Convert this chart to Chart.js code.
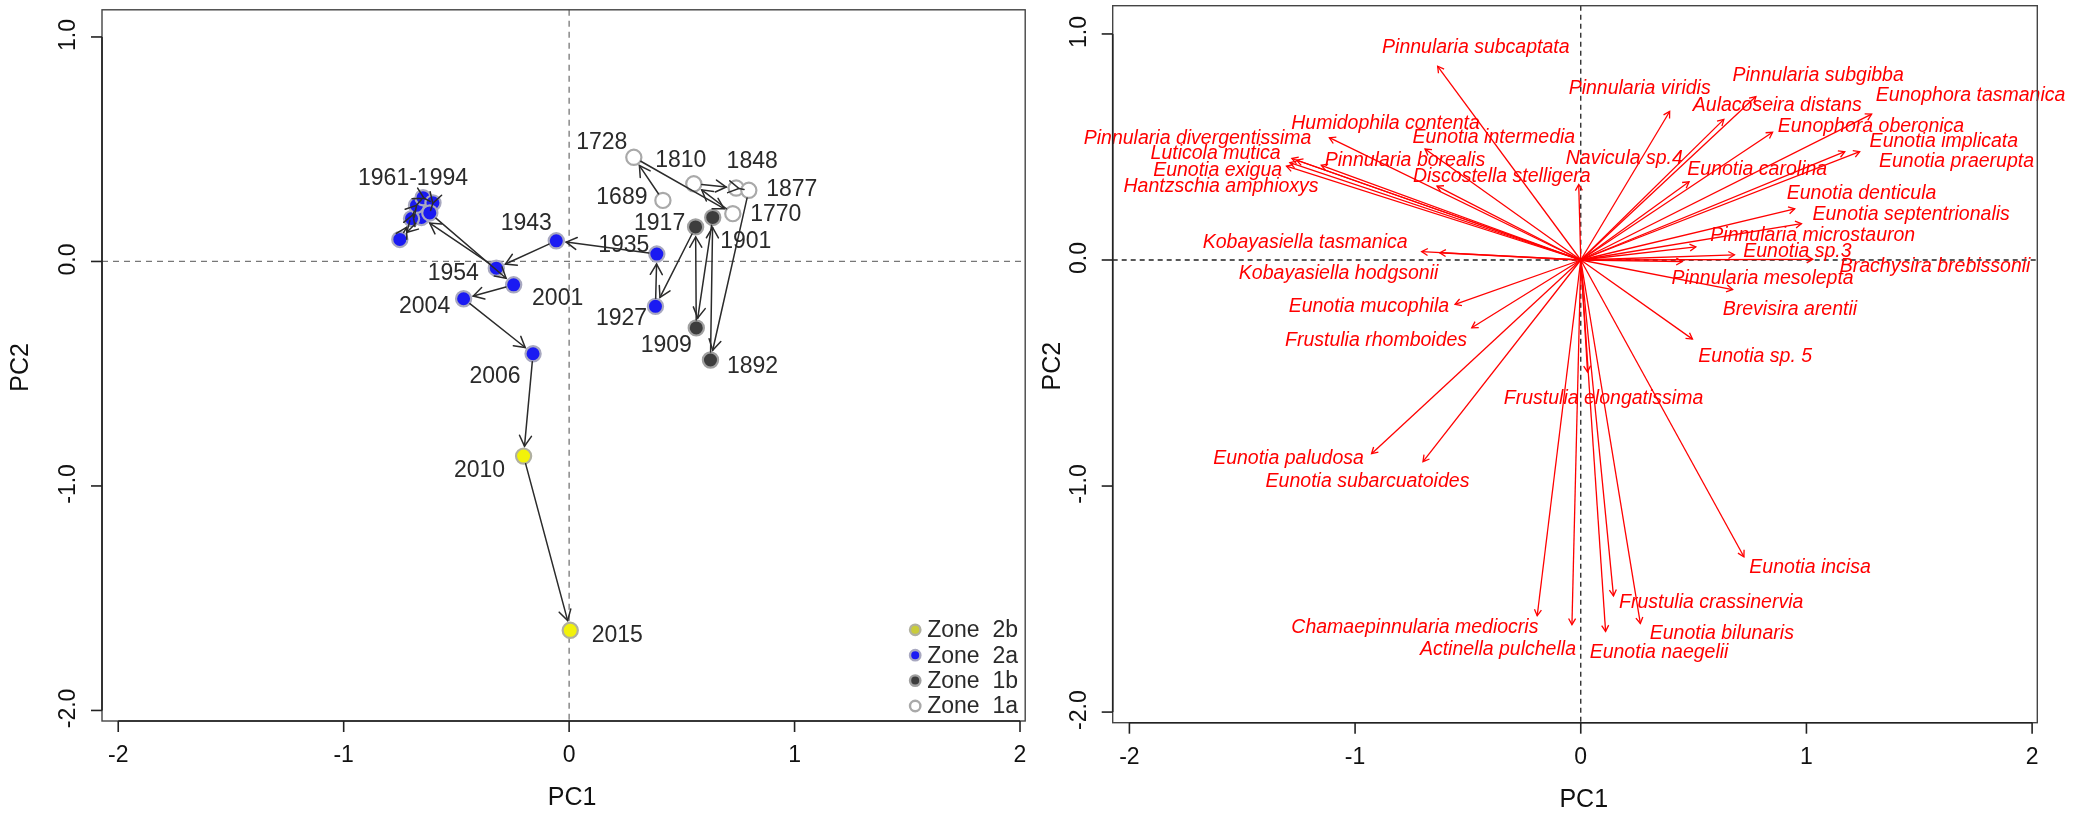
<!DOCTYPE html>
<html>
<head>
<meta charset="utf-8">
<script src="https://cdn.jsdelivr.net/npm/chart.js@4.4.1/dist/chart.umd.min.js"></script>
<style>
  html, body { margin: 0; padding: 0; background: #fff; width: 2089px; height: 816px; overflow: hidden; }
  canvas { position: absolute; top: 0; }
  #scores { left: 0; }
  #loadings { left: 1035px; }
</style>
</head>
<body>
<canvas id="scores" width="1035" height="816"></canvas>
<canvas id="loadings" width="1054" height="816"></canvas>
<script>
// ---------- sample scores (PCA of the core samples, in chronological order) ----------
const sampleLabels = ['1689', '1728', '1770', '1810', '1848', '1877', '1892', '1901', '1909', '1917',
  '1927', '1935', '1943', '1954', '', '', '', '', '1961-1994', '', '', '2001', '2004', '2006', '2010', '2015'];
const samplePC1 = [0.416, 0.287, 0.726, 0.553, 0.741, 0.797, 0.627, 0.637, 0.564, 0.561,
  0.383, 0.389, -0.057, -0.323, -0.655, -0.751, -0.699, -0.677, -0.648, -0.604, -0.618, -0.246, -0.468, -0.160, -0.202, 0.005];
const samplePC2 = [0.272, 0.464, 0.213, 0.346, 0.327, 0.317, -0.439, 0.196, -0.296, 0.154,
  -0.200, 0.033, 0.092, -0.030, 0.196, 0.098, 0.191, 0.250, 0.284, 0.261, 0.216, -0.104, -0.166, -0.411, -0.867, -1.643];
const sampleZone = ['1a', '1a', '1a', '1a', '1a', '1a', '1b', '1b', '1b', '1b',
  '2a', '2a', '2a', '2a', '2a', '2a', '2a', '2a', '2a', '2a', '2a', '2a', '2a', '2a', '2b', '2b'];
const legendZones = ['2b', '2a', '1b', '1a'];

// ---------- species loadings ----------
const speciesNames = ['Pinnularia subcaptata', 'Pinnularia viridis', 'Pinnularia subgibba', 'Aulacoseira distans',
  'Eunophora tasmanica', 'Eunophora oberonica', 'Eunotia implicata', 'Eunotia praerupta', 'Navicula sp.4',
  'Eunotia carolina', 'Eunotia denticula', 'Eunotia septentrionalis', 'Pinnularia microstauron', 'Eunotia sp.3',
  'Brachysira brebissonii', 'Pinnularia mesolepta', 'Brevisira arentii', 'Eunotia sp. 5', 'Frustulia elongatissima',
  'Eunotia incisa', 'Frustulia crassinervia', 'Eunotia bilunaris', 'Eunotia naegelii', 'Actinella pulchella',
  'Chamaepinnularia mediocris', 'Eunotia paludosa', 'Eunotia subarcuatoides', 'Frustulia rhomboides',
  'Eunotia mucophila', 'Kobayasiella hodgsonii', 'Kobayasiella tasmanica', 'Hantzschia amphioxys', 'Eunotia exigua',
  'Luticola mutica', 'Pinnularia divergentissima', 'Humidophila contenta', 'Pinnularia borealis',
  'Eunotia intermedia', 'Discostella stelligera'];
const speciesPC1 = [-0.634, 0.394, 0.776, 0.634, 1.289, 0.850, 1.170, 1.236, -0.009, 0.480, 0.948, 0.978, 0.510, 0.681,
  1.028, 0.673, 0.450, 0.495, 0.030, 0.723, 0.145, 0.264, 0.110, -0.039, -0.193, -0.927, -0.699, -0.483, -0.557,
  -0.625, -0.705, -1.289, -1.304, -1.280, -1.259, -1.114, -1.150, -0.690, -0.637];
const speciesPC2 = [0.857, 0.657, 0.723, 0.622, 0.645, 0.565, 0.479, 0.479, 0.334, 0.346, 0.226, 0.161, 0.058, 0.023,
  0.003, -0.131, -0.007, -0.350, -0.495, -1.313, -1.486, -1.608, -1.643, -1.613, -1.574, -0.857, -0.892, -0.300, -0.196,
  0.032, 0.037, 0.431, 0.415, 0.449, 0.442, 0.541, 0.419, 0.491, 0.327];

// ---------- axes ----------
const xTickValues = [-2, -1, 0, 1, 2];
const xTickLabels = ['-2', '-1', '0', '1', '2'];
const yTickValues = [1, 0, -1, -2];
const yTickLabels = ['1.0', '0.0', '-1.0', '-2.0'];

// ---------- layout / styling ----------
// where each species name sits, in axis units (centre of the text)
const speciesTextAt = [[-0.465, 0.940], [0.261, 0.760], [1.052, 0.818], [0.871, 0.684], [1.727, 0.726], [1.286, 0.592],
  [1.609, 0.523], [1.665, 0.435], [0.193, 0.449], [0.782, 0.399], [1.244, 0.295], [1.464, 0.200], [1.028, 0.108],
  [0.960, 0.039], [1.570, -0.028], [0.806, -0.081], [0.927, -0.221], [0.773, -0.426], [0.101, -0.613], [1.016, -1.359],
  [0.578, -1.516], [0.625, -1.654], [0.347, -1.735], [-0.367, -1.724], [-0.735, -1.624], [-1.295, -0.880],
  [-0.945, -0.979], [-0.907, -0.357], [-0.939, -0.207], [-1.073, -0.062], [-1.221, 0.076], [-1.594, 0.323],
  [-1.609, 0.396], [-1.618, 0.470], [-1.698, 0.535], [-0.865, 0.604], [-0.779, 0.438], [-0.385, 0.541], [-0.350, 0.369]];
// pixel nudges of the year labels from their points
const yearNudge = [[-41, -3], [-32, -15], [43, 1], [-13, -23], [16, -26], [43, -1], [42, 7], [33, 24], [-30, 18], [-36, -3],
  [-34, 12], [-33, -8], [-30, -17], [-43, 5], [0, 0], [0, 0], [0, 0], [0, 0], [-10, -19], [0, 0], [0, 0],
  [44, 14], [-39, 8], [-38, 23], [-44, 15], [47, 5]];

const zoneFill = { '1a': '#ffffff', '1b': '#3d3d3d', '2a': '#1a1af2', '2b': '#f2f20a' };
const zoneEdge = { '1a': '#a9a9a9', '1b': '#a0a0a0', '2a': '#a8a8c0', '2b': '#b0b0a0' };
const legendFill = { '1a': '#ffffff', '1b': '#3d3d3d', '2a': '#1a1af2', '2b': '#c9cc3a' };

const FONT = '"Liberation Sans", Arial, Helvetica, sans-serif';

function arrow(ctx, x0, y0, x1, y1, cutStart, cutEnd, headLen) {
  const dx = x1 - x0, dy = y1 - y0, d = Math.hypot(dx, dy);
  if (d < 1e-6) return;
  const ux = dx / d, uy = dy / d;
  const sx = x0 + ux * cutStart, sy = y0 + uy * cutStart;
  const ex = x1 - ux * cutEnd, ey = y1 - uy * cutEnd;
  ctx.beginPath(); ctx.moveTo(sx, sy); ctx.lineTo(ex, ey); ctx.stroke();
  const a = Math.atan2(uy, ux), t = Math.PI / 6;
  ctx.beginPath();
  ctx.moveTo(ex - headLen * Math.cos(a - t), ey - headLen * Math.sin(a - t));
  ctx.lineTo(ex, ey);
  ctx.lineTo(ex - headLen * Math.cos(a + t), ey - headLen * Math.sin(a + t));
  ctx.stroke();
}

function framePlugin(opts) {
  return {
    id: 'frame',
    beforeDatasetsDraw(chart) {
      const { ctx, chartArea: a, scales: { x, y } } = chart;
      ctx.save();
      // zero reference lines
      ctx.strokeStyle = opts.zeroColor; ctx.lineWidth = 1.3; ctx.setLineDash(opts.zeroDash);
      const x0 = x.getPixelForValue(0), y0 = y.getPixelForValue(0);
      ctx.beginPath(); ctx.moveTo(x0, a.top); ctx.lineTo(x0, a.bottom); ctx.stroke();
      ctx.beginPath(); ctx.moveTo(a.left, y0); ctx.lineTo(a.right, y0); ctx.stroke();
      ctx.setLineDash([]);
      ctx.restore();
    },
    afterDraw(chart) {
      const { ctx, chartArea: a, scales: { x, y } } = chart;
      ctx.save();
      ctx.strokeStyle = '#444'; ctx.lineWidth = 1.4;
      ctx.strokeRect(a.left, a.top, a.right - a.left, a.bottom - a.top);
      ctx.strokeStyle = '#222'; ctx.lineWidth = 1.6;
      // axis lines and ticks
      const xs = xTickValues.map(v => x.getPixelForValue(v));
      ctx.beginPath(); ctx.moveTo(xs[0], a.bottom); ctx.lineTo(xs[xs.length - 1], a.bottom); ctx.stroke();
      xs.forEach(px => { ctx.beginPath(); ctx.moveTo(px, a.bottom); ctx.lineTo(px, a.bottom + 11); ctx.stroke(); });
      const ys = yTickValues.map(v => y.getPixelForValue(v));
      ctx.beginPath(); ctx.moveTo(a.left, ys[0]); ctx.lineTo(a.left, ys[ys.length - 1]); ctx.stroke();
      ys.forEach(py => { ctx.beginPath(); ctx.moveTo(a.left, py); ctx.lineTo(a.left - 11, py); ctx.stroke(); });
      // tick labels
      ctx.fillStyle = '#111'; ctx.font = '23px ' + FONT;
      ctx.textAlign = 'center'; ctx.textBaseline = 'middle';
      xs.forEach((px, i) => ctx.fillText(xTickLabels[i], px, a.bottom + 35));
      ys.forEach((py, i) => {
        ctx.save(); ctx.translate(a.left - 33, py - 2); ctx.rotate(-Math.PI / 2);
        ctx.fillText(yTickLabels[i], 0, 0); ctx.restore();
      });
      // axis titles
      ctx.font = '25px ' + FONT;
      ctx.fillText('PC1', x.getPixelForValue(0) + 3, a.bottom + 77);
      ctx.save(); ctx.translate(opts.pc2X, (a.top + a.bottom) / 2 + 2); ctx.rotate(-Math.PI / 2);
      ctx.fillText('PC2', 0, 0); ctx.restore();
      ctx.restore();
    }
  };
}

function baseOptions(W, H, box, xr, yr) {
  return {
    responsive: false, animation: false, devicePixelRatio: 1,
    layout: { padding: { left: 0, top: box.top, right: W - box.right, bottom: 0 } },
    plugins: { legend: { display: false }, tooltip: { enabled: false } },
    scales: {
      x: { type: 'linear', min: xr[0], max: xr[1],
        ticks: { display: false }, grid: { display: false }, border: { display: false },
        afterFit: s => { s.height = H - box.bottom; } },
      y: { type: 'linear', min: yr[0], max: yr[1],
        ticks: { display: false }, grid: { display: false }, border: { display: false },
        afterFit: s => { s.width = box.left; } }
    }
  };
}

// ---------- left panel: sample trajectory ----------
const samplePoints = samplePC1.map((v, i) => ({ x: v, y: samplePC2[i] }));
const trajectoryPlugin = {
  id: 'trajectory',
  afterDatasetsDraw(chart) {
    const { ctx, scales: { x, y } } = chart;
    const px = samplePC1.map(v => x.getPixelForValue(v));
    const py = samplePC2.map(v => y.getPixelForValue(v));
    ctx.save();
    ctx.strokeStyle = '#2b2b2b'; ctx.lineWidth = 1.5; ctx.lineCap = 'round';
    for (let i = 0; i + 1 < px.length; i++) arrow(ctx, px[i], py[i], px[i + 1], py[i + 1], 8, 10, 12);
    ctx.fillStyle = '#2a2a2a'; ctx.font = '23px ' + FONT;
    ctx.textAlign = 'center'; ctx.textBaseline = 'middle';
    sampleLabels.forEach((t, i) => {
      if (t) ctx.fillText(t, px[i] + yearNudge[i][0], py[i] + yearNudge[i][1]);
    });
    // legend, bottom-right corner of the plot
    const a = chart.chartArea;
    legendZones.forEach((z, k) => {
      const cy = a.bottom - 15 - (legendZones.length - 1 - k) * 25.4;
      const cx = a.right - 110;
      ctx.beginPath(); ctx.arc(cx, cy, 5.2, 0, 2 * Math.PI);
      ctx.fillStyle = legendFill[z]; ctx.fill();
      ctx.lineWidth = 2.4; ctx.strokeStyle = zoneEdge[z]; ctx.stroke();
      ctx.fillStyle = '#2a2a2a'; ctx.textAlign = 'left';
      ctx.fillText('Zone  ' + z, cx + 12, cy + 1);
    });
    ctx.restore();
  }
};

new Chart(document.getElementById('scores'), {
  type: 'scatter',
  data: { datasets: [{
    data: samplePoints,
    pointRadius: 7.6, pointBorderWidth: 2.2,
    pointBackgroundColor: sampleZone.map(z => zoneFill[z]),
    pointBorderColor: sampleZone.map(z => zoneEdge[z]),
    showLine: false
  }] },
  options: baseOptions(1035, 816, { left: 102, top: 5, right: 1026, bottom: 721 }, [-2.072, 2.023], [-2.047, 1.121]),
  plugins: [framePlugin({ zeroColor: '#777', zeroDash: [6, 5], pc2X: 21 }), trajectoryPlugin]
});

// ---------- right panel: species loadings ----------
const loadingPlugin = {
  id: 'loadings',
  afterDatasetsDraw(chart) {
    const { ctx, scales: { x, y } } = chart;
    const ox = x.getPixelForValue(0), oy = y.getPixelForValue(0);
    ctx.save();
    ctx.strokeStyle = '#ff0000'; ctx.lineWidth = 1.3;
    speciesPC1.forEach((v, i) => arrow(ctx, ox, oy, x.getPixelForValue(v), y.getPixelForValue(speciesPC2[i]), 0, 0, 7));
    ctx.fillStyle = '#ff0000'; ctx.font = 'italic 19.5px ' + FONT;
    ctx.textAlign = 'center'; ctx.textBaseline = 'middle';
    speciesNames.forEach((n, i) => {
      ctx.fillText(n, x.getPixelForValue(speciesTextAt[i][0]), y.getPixelForValue(speciesTextAt[i][1]));
    });
    ctx.restore();
  }
};

new Chart(document.getElementById('loadings'), {
  type: 'scatter',
  data: { datasets: [{
    data: speciesPC1.map((v, i) => ({ x: v, y: speciesPC2[i] })),
    pointRadius: 0, showLine: false
  }] },
  options: baseOptions(1054, 816, { left: 77.7, top: 5.7, right: 1002.3, bottom: 722.7 }, [-2.074, 2.023], [-2.047, 1.125]),
  plugins: [framePlugin({ zeroColor: '#222', zeroDash: [5, 4], pc2X: 18 }), loadingPlugin]
});
</script>
</body>
</html>
